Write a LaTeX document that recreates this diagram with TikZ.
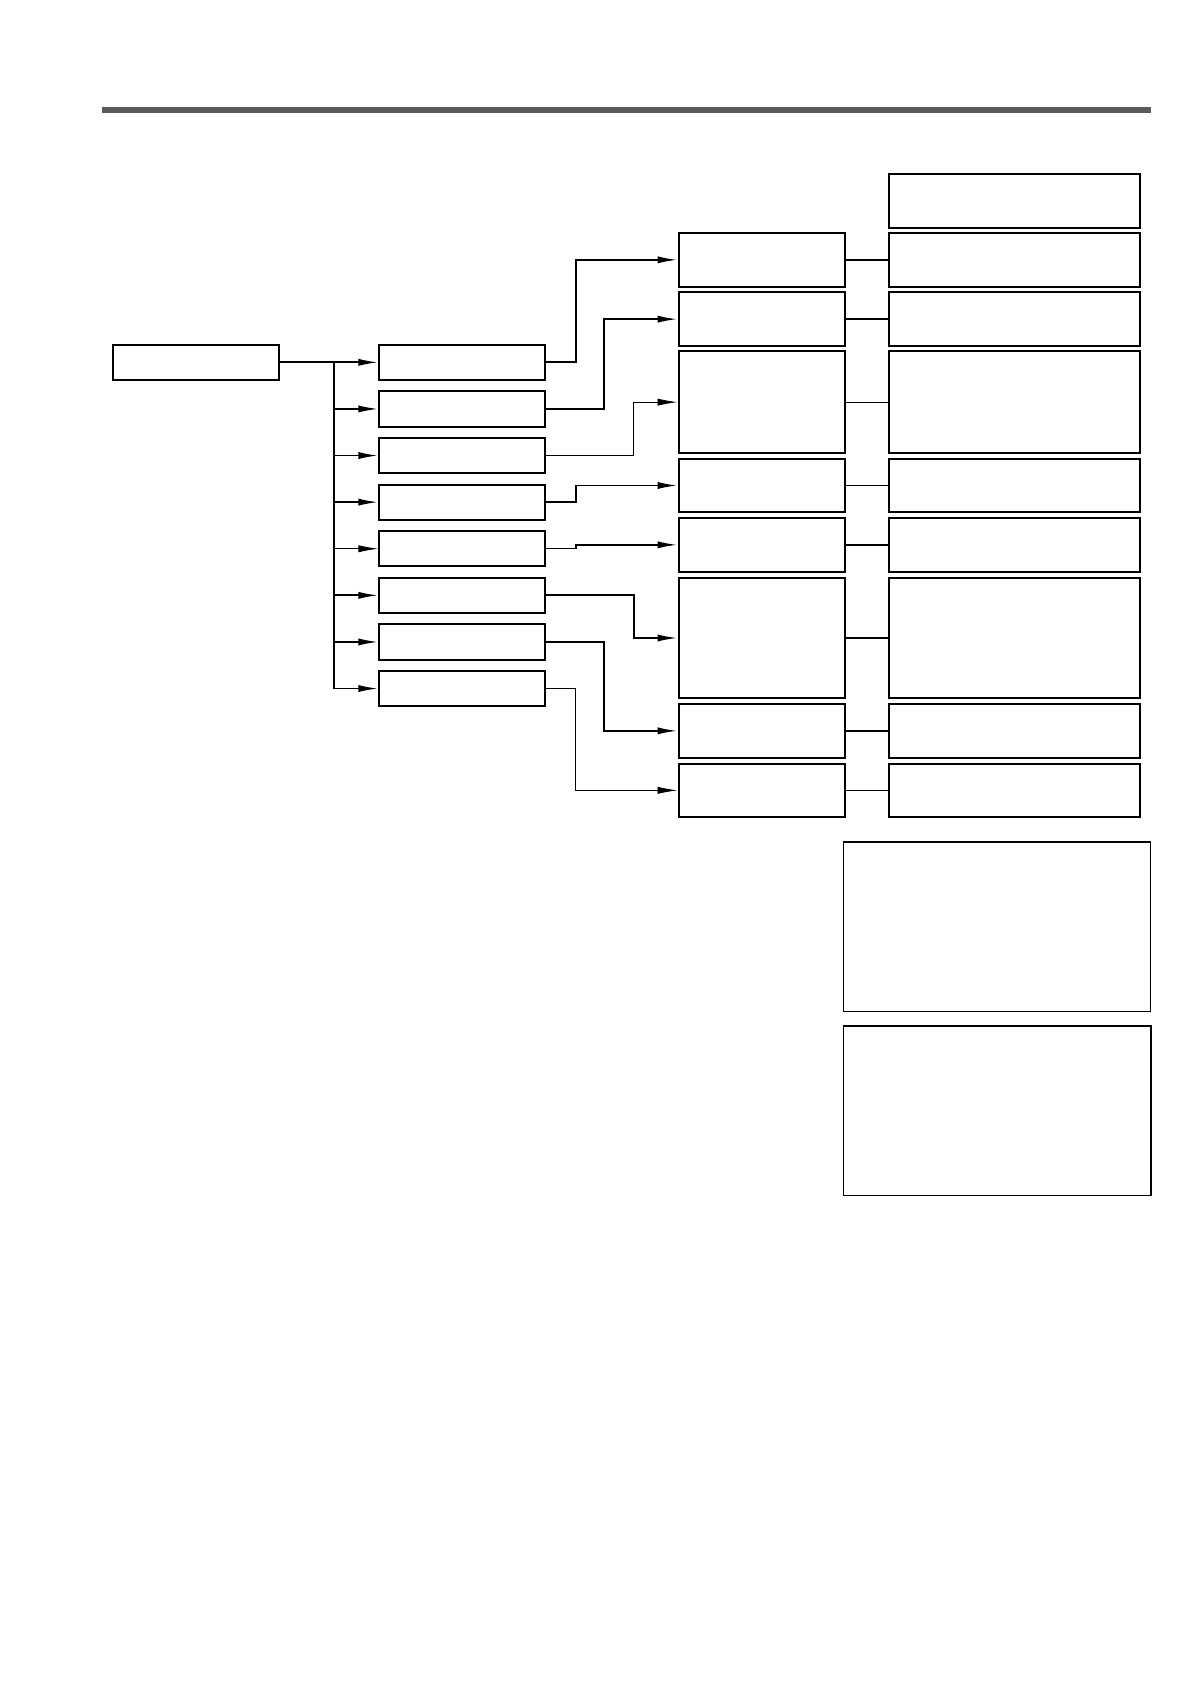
\documentclass[tikz,border=0pt]{standalone}
\usetikzlibrary{arrows.meta,fit}
\definecolor{bargray}{HTML}{5B5B5B}
\begin{document}
\begin{tikzpicture}[x=0.5pt,y=-0.5pt,
  box/.style={draw, line width=1pt, inner sep=0pt},
  lbox/.style={draw, line width=0.8pt, inner sep=0pt},
  conn/.style={line width=0.9pt},
  thinconn/.style={line width=0.45pt},
  arr/.style={-{Latex[length=10pt,width=3.6pt]}}]
\useasboundingbox (0,0) rectangle (1190,1684);
\fill[bargray] (102,107) rectangle (1151,113);
% root
\node[box, fit={(112.6,344.7) (279.4,380)}] (root) {};
% middle column
\foreach \i in {1,...,8}{
  \pgfmathsetmacro{\t}{344.7+46.6*(\i-1)}
  \pgfmathsetmacro{\b}{\t+35.3}
  \node[box, fit={(379.3,\t) (545.4,\b)}] (m\i) {};
}
% third column
\node[box, fit={(678.5,232.7) (845,287)}] (c1) {};
\node[box, fit={(678.5,292.3) (845,346)}] (c2) {};
\node[box, fit={(678.5,351.3) (845,453)}] (c3) {};
\node[box, fit={(678.5,458.7) (845,512.3)}] (c4) {};
\node[box, fit={(678.5,517.7) (845,572)}] (c5) {};
\node[box, fit={(678.5,577.7) (845,698.3)}] (c6) {};
\node[box, fit={(678.5,703.7) (845,758)}] (c7) {};
\node[box, fit={(678.5,763.7) (845,817)}] (c8) {};
% right column
\node[box, fit={(888.7,173.7) (1140.3,227.7)}] (d0) {};
\node[box, fit={(888.7,232.7) (1140.3,287)}] (d1) {};
\node[box, fit={(888.7,292.3) (1140.3,346)}] (d2) {};
\node[box, fit={(888.7,351.3) (1140.3,453)}] (d3) {};
\node[box, fit={(888.7,458.7) (1140.3,512.3)}] (d4) {};
\node[box, fit={(888.7,517.7) (1140.3,572)}] (d5) {};
\node[box, fit={(888.7,577.7) (1140.3,698.3)}] (d6) {};
\node[box, fit={(888.7,703.7) (1140.3,758)}] (d7) {};
\node[box, fit={(888.7,763.7) (1140.3,817)}] (d8) {};
% bottom boxes
\node[lbox, fit={(843.3,842.2) (1150.3,1011.4)}] (e1) {};
\node[lbox, fit={(843.3,1026) (1150.7,1195.3)}] (e2) {};
% trunk
\coordinate (t) at (333.8,0);
\draw[conn, arr] (root.east) -- (m1.west);
\draw[conn] (root.east -| t) -- (m8.west -| t);
\foreach \i in {2,3,4,6,7,8}{
  \draw[conn, arr] (m\i.west -| t) -- (m\i.west);
}
\draw[thinconn, arr] (m5.west -| t) -- (m5.west);
% elbows
\coordinate (ka) at (575.7,0);
\coordinate (kb) at (604,0);
\coordinate (kc) at (633.8,0);
\draw[conn, arr] (m1.east) -- (m1.east -| ka) |- (c1.west);
\draw[conn, arr] (m2.east) -- (m2.east -| kb) |- (c2.west);
\draw[conn] (m3.east) -- (m3.east -| kc);
\draw[thinconn, arr] (m3.east -| kc) |- (c3.west);
\draw[conn, arr] (m4.east) -- (m4.east -| ka) |- (c4.west);
\draw[thinconn] (m5.east) -- (m5.east -| ka);
\draw[conn, arr] (m5.east -| ka) |- (c5.west);
\draw[conn, arr] (m6.east) -- (m6.east -| kc) |- (c6.west);
\draw[conn, arr] (m7.east) -- (m7.east -| kb) |- (c7.west);
\draw[conn] (m8.east) -- (m8.east -| ka);
\draw[thinconn, arr] (m8.east -| ka) |- (c8.west);
% c to d
\foreach \i in {1,2,4,5,6,7}{
  \draw[conn] (c\i.east) -- (d\i.west);
}
\draw[thinconn] (c3.east) -- (d3.west);
\draw[thinconn] (c8.east) -- (d8.west);
\end{tikzpicture}
\end{document}
